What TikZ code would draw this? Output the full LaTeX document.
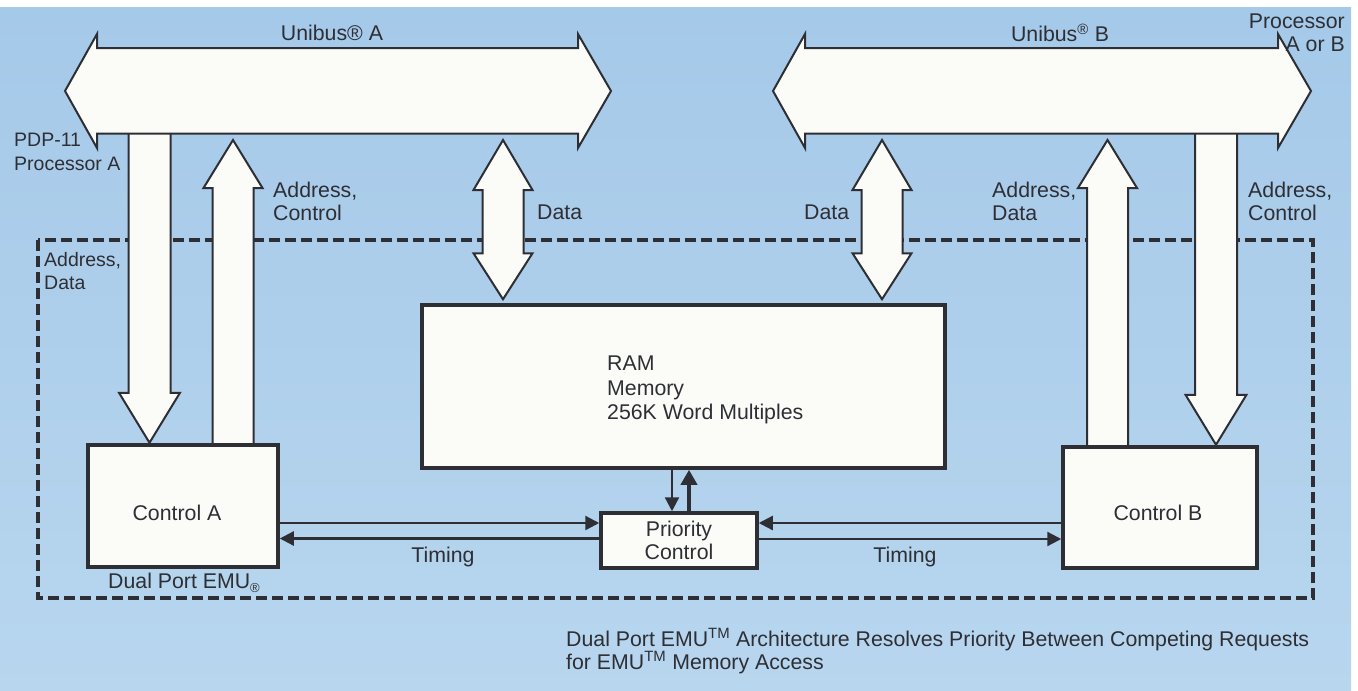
\documentclass[tikz,border=0pt]{standalone}
\usepackage{fontspec}
\setmainfont{Liberation Sans}
\usetikzlibrary{arrows.meta,calc}
\definecolor{bgTop}{RGB}{165,201,233}
\definecolor{bgBot}{RGB}{184,214,238}
\definecolor{ink}{RGB}{45,47,52}
\definecolor{paper}{RGB}{251,251,248}
\newcommand\BlkDown[2]{%
  \draw[blk] let \p1=(#1), \p2=(#2) in
    (\x1-21pt,\y1) -- (\x1-21pt,\y2+50pt) -- (\x1-30.5pt,\y2+50pt) -- (\x1,\y2)
    -- (\x1+30.5pt,\y2+50pt) -- (\x1+21pt,\y2+50pt) -- (\x1+21pt,\y1);}
\newcommand\BlkUp[2]{%
  \draw[blk] let \p1=(#1), \p2=(#2) in
    (\x2-20.5pt,\y1) -- (\x2-20.5pt,\y2-48pt) -- (\x2-29.5pt,\y2-48pt) -- (\x2,\y2)
    -- (\x2+29.5pt,\y2-48pt) -- (\x2+20.5pt,\y2-48pt) -- (\x2+20.5pt,\y1);}
\newcommand\BlkBoth[2]{%
  \draw[blk] let \p1=(#1), \p2=(#2) in
    (\x1,\y1) -- (\x1+29.5pt,\y1-50pt) -- (\x1+20.5pt,\y1-50pt) -- (\x1+20.5pt,\y2+46pt)
    -- (\x1+29.5pt,\y2+46pt) -- (\x1,\y2) -- (\x1-29.5pt,\y2+46pt) -- (\x1-20.5pt,\y2+46pt)
    -- (\x1-20.5pt,\y1-50pt) -- (\x1-29.5pt,\y1-50pt) -- cycle;}
\begin{document}
\begin{tikzpicture}[x=1pt,y=-1pt,
  lbl/.style={font=\fontsize{21.3}{23}\selectfont, text=ink, inner sep=0pt, align=left},
  box/.style={draw=ink, line width=3.5pt, fill=paper, rectangle, inner sep=0pt},
  bus/.style={draw=ink, line width=2pt, fill=paper, line join=miter},
  blk/.style={draw=ink, line width=2pt, fill=paper, line join=miter},
  frame/.style={draw=ink, line width=3.5pt, dash pattern=on 11pt off 5pt},
  sig/.style={draw=ink, line width=2.3pt, -{Triangle[length=14pt,width=14pt]}},
  sigb/.style={draw=ink, line width=3.5pt, -{Triangle[length=15pt,width=16pt]}}]
\useasboundingbox (0,0) rectangle (1358,691);
\fill[white] (0,0) rectangle (1358,691);
\shade[top color=bgTop, bottom color=bgBot] (0,7) rectangle (1351,691);

% dashed frame of the Dual Port EMU
\draw[frame] (38,240) rectangle (1313,598);

% boxes (positions)
\node[box, minimum width=190pt, minimum height=122pt] (ctrlA) at (183,506) {};
\node[box, minimum width=194pt, minimum height=121pt] (ctrlB) at (1160,507.5) {};
\node[box, minimum width=523pt, minimum height=163pt] (ram) at (683.5,386.5) {};

% attachment points on the buses
\coordinate (aAD) at (149.5,133);
\coordinate (aAC) at (233,140);
\coordinate (aD)  at (503,140);
\coordinate (bD)  at (882,140);
\coordinate (bAD) at (1107.5,140);
\coordinate (bAC) at (1216,133);

% wide block arrows
\BlkDown{aAD}{$(ctrlA.north -| aAD)+(0,-0.5)$}
\BlkUp{ctrlA.north -| aAC}{aAC}
\BlkBoth{aD}{$(ram.north -| aD)+(0,-4)$}
\BlkBoth{bD}{$(ram.north -| bD)+(0,-4)$}
\BlkUp{ctrlB.north -| bAD}{bAD}
\BlkDown{bAC}{$(ctrlB.north -| bAC)+(0,-0.5)$}

% redraw boxes on top of arrow bases
\node[box, minimum width=190pt, minimum height=122pt] at (ctrlA) {};
\node[box, minimum width=194pt, minimum height=121pt] at (ctrlB) {};
\node[box, minimum width=523pt, minimum height=163pt] at (ram) {};

% Unibus A and B
\draw[bus] (65,91) -- (97,34) -- (97,48) -- (578,48) -- (578,34) -- (611,91)
  -- (578,148) -- (578,133.5) -- (97,133.5) -- (97,148) -- cycle;
\draw[bus] (773,91) -- (805,34) -- (805,48) -- (1278,48) -- (1278,34) -- (1311,91)
  -- (1278,148) -- (1278,133.5) -- (805,133.5) -- (805,148) -- cycle;

% priority control
\node[box, lbl, align=center, minimum width=156pt, minimum height=55pt] (prio) at (679,540.5) {Priority\\Control};

\coordinate (pd) at ($(prio.north)+(-7,0)$);
\coordinate (pu) at ($(prio.north)+(10,0)$);
\draw[sig] (ram.south -| pd) -- (pd);
\draw[sigb] (pu) -- (ram.south -| pu);

\coordinate (pw1) at ($(prio.west)+(0,-17.5)$);
\coordinate (pw2) at ($(prio.west)+(0,-2)$);
\coordinate (pe1) at ($(prio.east)+(0,-17.5)$);
\coordinate (pe2) at ($(prio.east)+(0,-1.5)$);
\draw[sig] (ctrlA.east |- pw1) -- (pw1);
\draw[sig] (pw2) -- (ctrlA.east |- pw2);
\draw[sig] (ctrlB.west |- pe1) -- (pe1);
\draw[sig] (pe2) -- (ctrlB.west |- pe2);

% texts
\node[lbl] (ctrlAt) at (177,513) {Control A};
\node[lbl] (ctrlBt) at (1158,513) {Control B};
\node[lbl, anchor=west, text depth=0pt] (ramt) at (607,388) {RAM\\[1.5pt]Memory\\[1.5pt]256K Word Multiples};
\node[lbl] (uA) at (332,33) {Unibus® A};
\node[lbl] (uB) at (1060,33) {Unibus\textsuperscript{®} B};
\node[lbl, anchor=east, align=right] (proc) at (1345,32.5) {Processor\\A or B};
\node[lbl, anchor=west, font=\fontsize{19.5}{24}\selectfont] (pdp) at (14,152) {PDP-11\\Processor A};
\node[lbl, anchor=west] (acA) at (273,201) {Address,\\Control};
\node[lbl, anchor=west] (dA) at (537,212) {Data};
\node[lbl, anchor=west, font=\fontsize{19.5}{23}\selectfont] (adA) at (44,271.5) {Address,\\Data};
\node[lbl, anchor=west] (dB) at (804,212) {Data};
\node[lbl, anchor=west] (adB) at (992,201) {Address,\\Data};
\node[lbl, anchor=west] (acB) at (1248,201) {Address,\\Control};
\node[lbl] (tA) at (443,557) {Timing};
\node[lbl] (tB) at (905,557) {Timing};
\node[lbl, anchor=west] (emu) at (108,583) {Dual Port EMU\raisebox{-4pt}{\fontsize{13}{13}\selectfont ®}};
\node[lbl, anchor=west] (cap) at (566,651) {Dual Port EMU\textsuperscript{TM} Architecture Resolves Priority Between Competing Requests\\for EMU\textsuperscript{TM} Memory Access};
\end{tikzpicture}
\end{document}
